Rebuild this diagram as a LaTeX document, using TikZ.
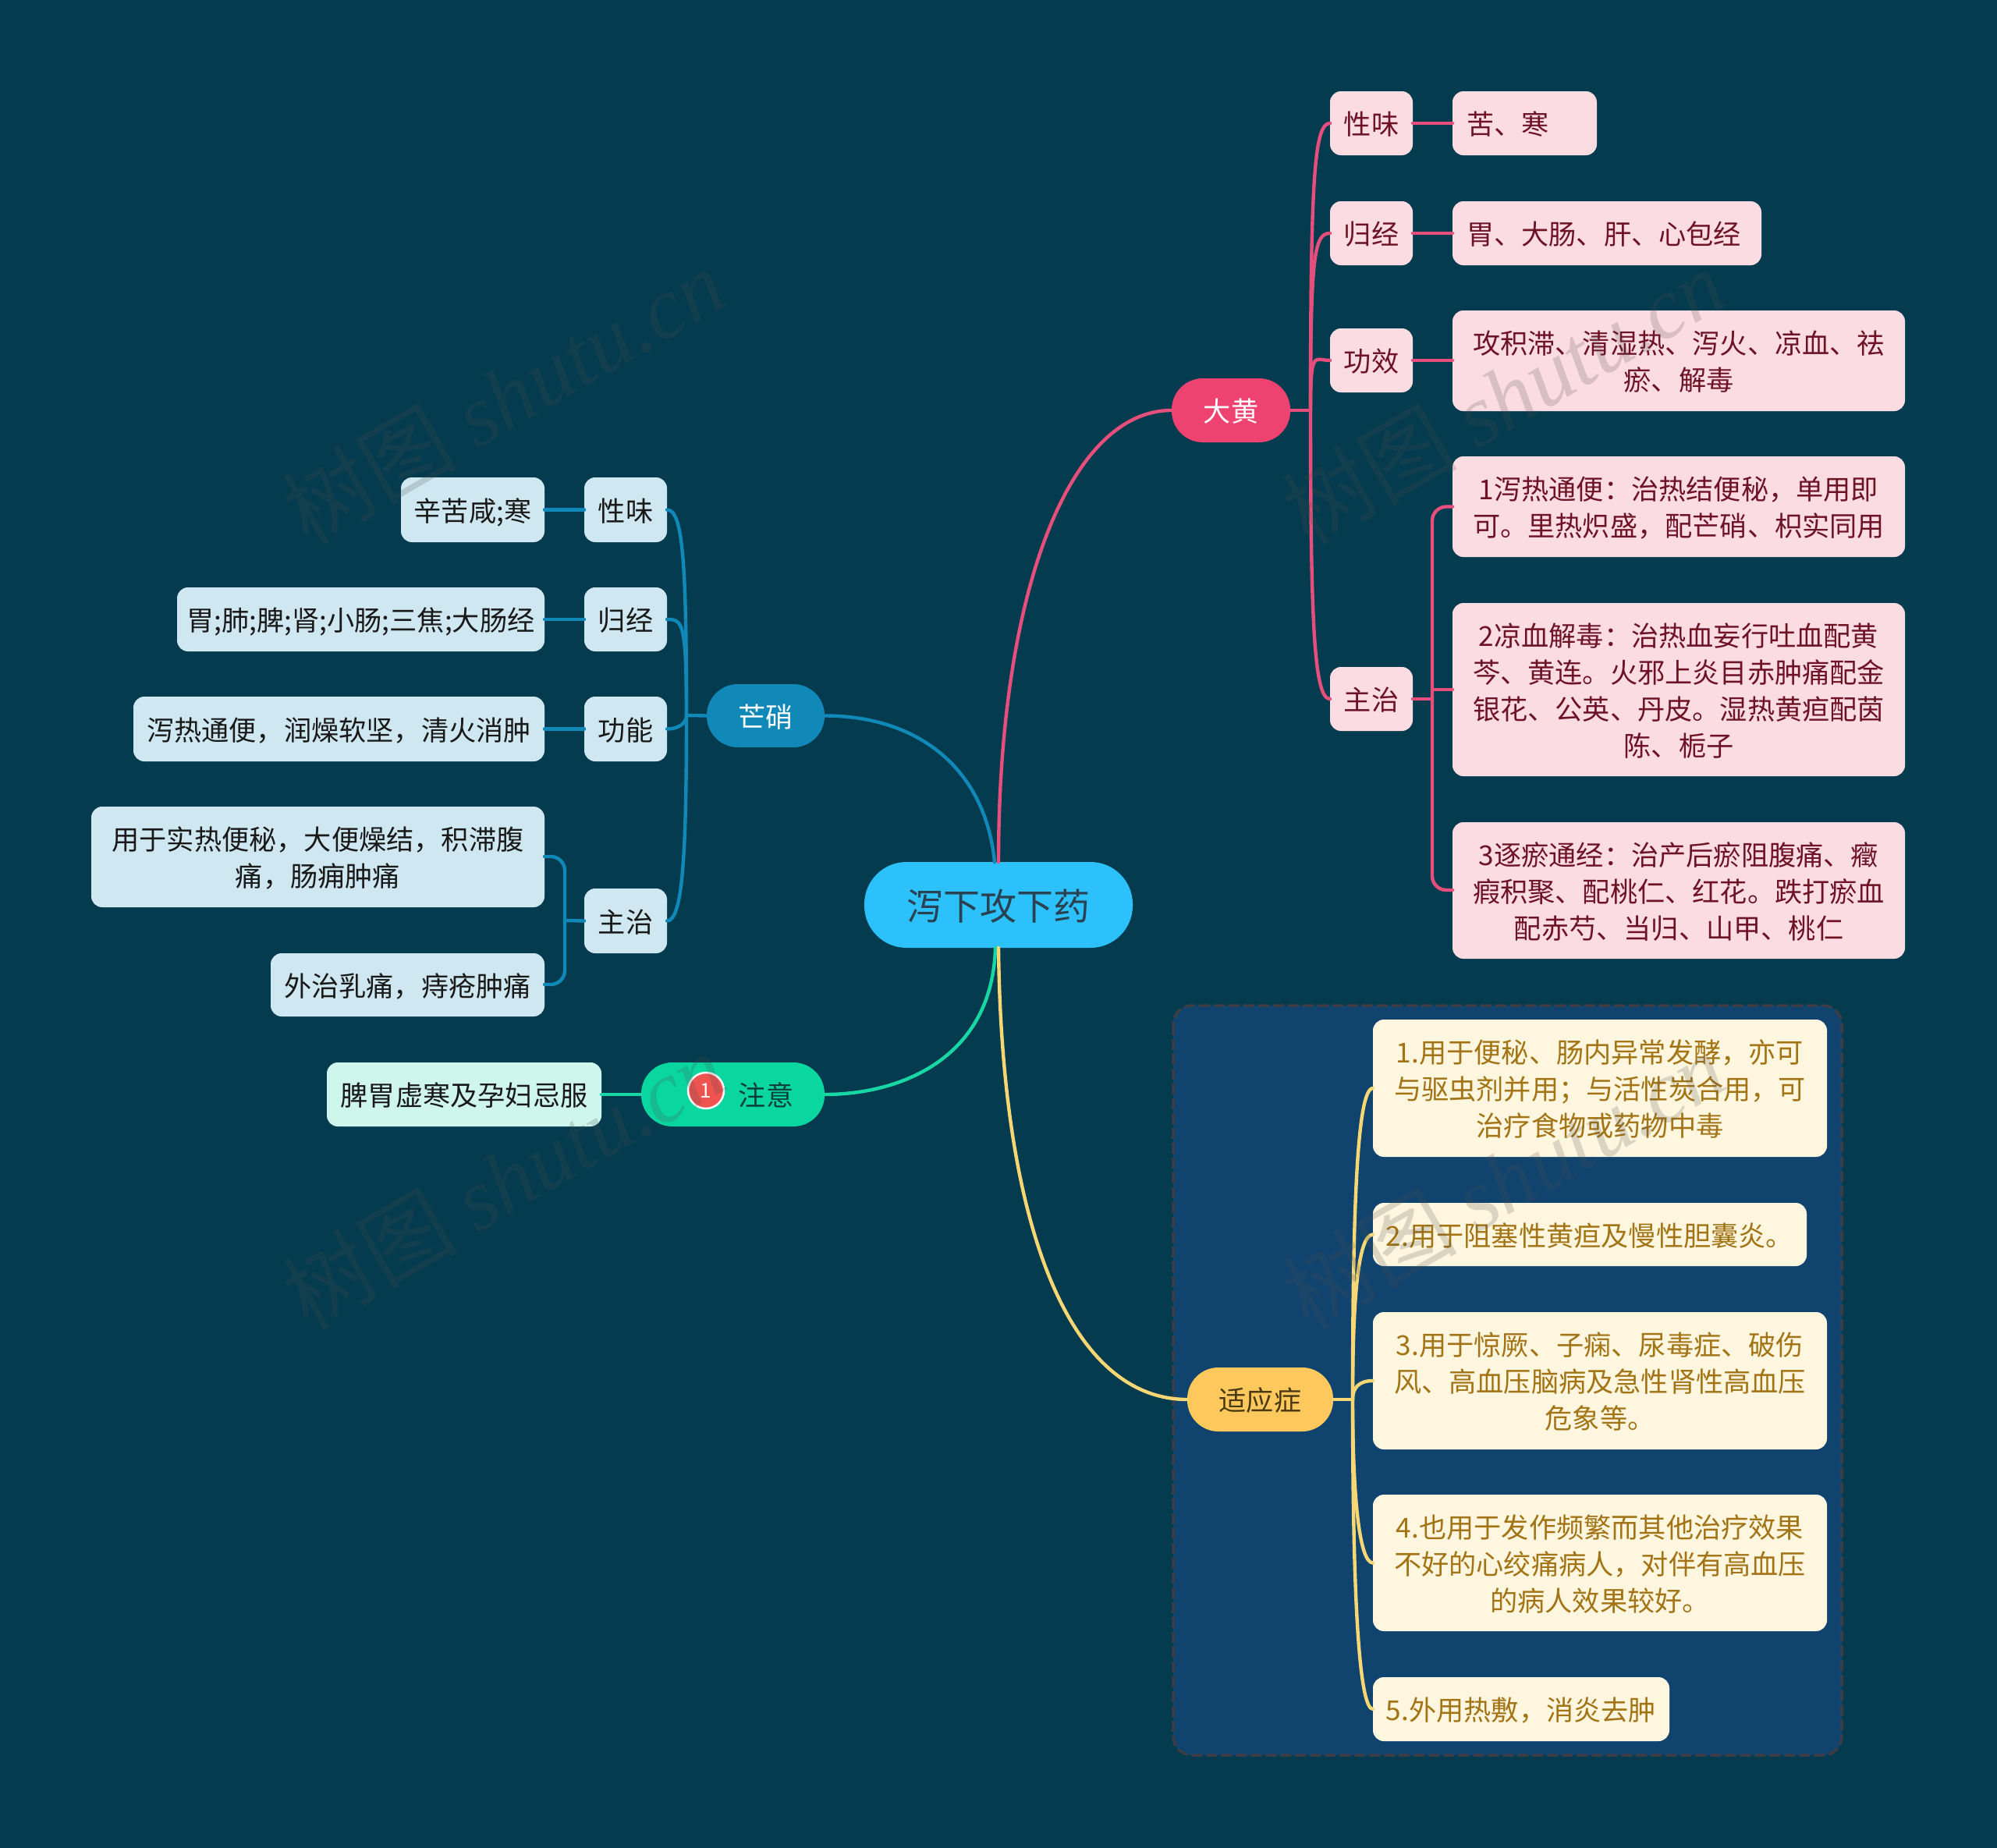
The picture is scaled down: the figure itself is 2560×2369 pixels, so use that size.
\documentclass[tikz,border=0pt]{standalone}
\usepackage{fontspec}
\setmainfont{Noto Sans CJK SC}
\newfontfamily\wmlatin[ItalicFont=Liberation Serif Italic]{Liberation Serif}
\usetikzlibrary{calc}
\definecolor{bgc}{HTML}{053B4F}
\definecolor{rootc}{HTML}{2CC1FA}
\definecolor{redc}{HTML}{EE4370}
\definecolor{redline}{HTML}{E64F7C}
\definecolor{bluec}{HTML}{1189B8}
\definecolor{greenc}{HTML}{0AD6A0}
\definecolor{greenline}{HTML}{17D7A4}
\definecolor{yelc}{HTML}{FFC85C}
\definecolor{yelline}{HTML}{F7D774}
\definecolor{pinkc}{HTML}{FCDCE3}
\definecolor{skyc}{HTML}{CFE7F0}
\definecolor{mintc}{HTML}{CEF6EC}
\definecolor{creamc}{HTML}{FEF6DF}
\definecolor{maroon}{HTML}{6E1226}
\definecolor{goldt}{HTML}{A37415}
\definecolor{panelc}{HTML}{10446F}
\definecolor{panelb}{HTML}{3F3C46}
\definecolor{badgec}{HTML}{EF5350}
\definecolor{roottext}{HTML}{2A4152}
\definecolor{greentext}{HTML}{0B4038}
\definecolor{yeltext}{HTML}{4A3A12}
\tikzset{
  mm/.style={inner sep=0pt,outer sep=0pt,align=center,text depth=0pt,font=\fontsize{35.2}{47}\selectfont,rounded corners=14pt},
  rootbox/.style={mm,fill=rootc,text=roottext,rounded corners=54pt,font=\fontsize{47}{56}\selectfont},
  redpill/.style={mm,fill=redc,text=white,rounded corners=40pt},
  bluepill/.style={mm,fill=bluec,text=white,rounded corners=40pt},
  greenpill/.style={mm,fill=greenc,text=greentext,rounded corners=40pt},
  yelpill/.style={mm,fill=yelc,text=yeltext,rounded corners=40pt},
  pinkbox/.style={mm,fill=pinkc,text=maroon},
  skybox/.style={mm,fill=skyc,text=black!90},
  mintbox/.style={mm,fill=mintc,text=black!90},
  creambox/.style={mm,fill=creamc,text=goldt},
  conn/.style={line width=4.4pt,line cap=round,line join=round},
  redl/.style={conn,draw=redline},
  bluel/.style={conn,draw=bluec},
  greenl/.style={conn,draw=greenline},
  yell/.style={conn,draw=yelline},
  watermark/.style={text=black!70,opacity=.2,rotate=30,inner sep=0pt,font=\fontsize{112}{112}\selectfont}
}
\newcommand{\mmnode}[7]{\node[#1,minimum width={(#5)-(#3)},minimum height={(#6)-(#4)}] (#2) at ({((#3)+(#5))/2},{((#4)+(#6))/2}) {#7};}
\begin{document}
\begin{tikzpicture}[x=1pt,y=-1pt]
\useasboundingbox (0,0) rectangle (2560,2369);
\fill[bgc] (0,0) rectangle (2560,2369);
% panel
\draw[fill=panelc,draw=panelb,line width=3.5pt,dash pattern=on 14pt off 5pt,rounded corners=24pt] (1504,1289) rectangle (2361,2250);
% root
\mmnode{rootbox}{root}{1108}{1105}{1452}{1215}{泻下攻下药}
% 大黄 branch
\mmnode{redpill}{dh}{1502}{485}{1654}{567}{大黄}
\mmnode{pinkbox}{r1}{1705}{117}{1811}{199}{性味}
\mmnode{pinkbox}{r2}{1705}{258}{1811}{340}{归经}
\mmnode{pinkbox}{r3}{1705}{421}{1811}{503}{功效}
\mmnode{pinkbox}{r4}{1705}{855}{1811}{937}{主治}
\mmnode{pinkbox}{ra}{1862}{117}{2047}{199}{\makebox[149pt][l]{苦、寒}}
\mmnode{pinkbox}{rb}{1862}{258}{2258}{340}{胃、大肠、肝、心包经\hspace*{8pt}}
\mmnode{pinkbox}{rc}{1862}{398}{2442}{527}{攻积滞、清湿热、泻火、凉血、祛\\瘀、解毒}
\mmnode{pinkbox}{rd}{1862}{585}{2442}{714}{1泻热通便：治热结便秘，单用即\\可。里热炽盛，配芒硝、枳实同用}
\mmnode{pinkbox}{re}{1862}{773}{2442}{995}{2凉血解毒：治热血妄行吐血配黄\\芩、黄连。火邪上炎目赤肿痛配金\\银花、公英、丹皮。湿热黄疸配茵\\陈、栀子}
\mmnode{pinkbox}{rf}{1862}{1054}{2442}{1229}{3逐瘀通经：治产后瘀阻腹痛、癥\\瘕积聚、配桃仁、红花。跌打瘀血\\配赤芍、当归、山甲、桃仁}
% 芒硝 branch
\mmnode{bluepill}{mx}{906}{877}{1057}{958}{芒硝}
\mmnode{skybox}{b1}{749}{612}{855}{695}{性味}
\mmnode{skybox}{b2}{749}{753}{855}{835}{归经}
\mmnode{skybox}{b3}{749}{893}{855}{976}{功能}
\mmnode{skybox}{b4}{749}{1139}{855}{1222}{主治}
\mmnode{skybox}{ba}{514}{612}{698}{695}{辛苦咸;寒}
\mmnode{skybox}{bb}{227}{753}{698}{835}{胃;肺;脾;肾;小肠;三焦;大肠经}
\mmnode{skybox}{bc}{171}{893}{698}{976}{泻热通便，润燥软坚，清火消肿}
\mmnode{skybox}{bd}{117}{1034}{698}{1163}{用于实热便秘，大便燥结，积滞腹\\痛，肠痈肿痛}
\mmnode{skybox}{be}{347}{1222}{698}{1303}{外治乳痛，痔疮肿痛}
% 注意 branch
\mmnode{greenpill}{zy}{822}{1362}{1057}{1444}{\hspace*{85pt}注意}
\mmnode{mintbox}{zl}{419}{1362}{771}{1444}{脾胃虚寒及孕妇忌服}
\node[circle,fill=badgec,draw=white!90!pink,line width=2.5pt,minimum size=46pt,inner sep=0pt,text=white!90!pink,font=\fontsize{26}{26}\selectfont] (badge) at (905,1398) {1};
% 适应症 branch
\mmnode{yelpill}{sy}{1522}{1753}{1709}{1835}{适应症}
\mmnode{creambox}{y1}{1760}{1307}{2342}{1483}{1.用于便秘、肠内异常发酵，亦可\\与驱虫剂并用；与活性炭合用，可\\治疗食物或药物中毒}
\mmnode{creambox}{y2}{1760}{1542}{2316}{1623}{2.用于阻塞性黄疸及慢性胆囊炎。}
\mmnode{creambox}{y3}{1760}{1682}{2342}{1858}{3.用于惊厥、子痫、尿毒症、破伤\\风、高血压脑病及急性肾性高血压\\危象等。}
\mmnode{creambox}{y4}{1760}{1916}{2342}{2091}{4.也用于发作频繁而其他治疗效果\\不好的心绞痛病人，对伴有高血压\\的病人效果较好。}
\mmnode{creambox}{y5}{1760}{2150}{2140}{2232}{5.外用热敷，消炎去肿}
% bus coordinates
\coordinate (rbus) at (1680,526);
\coordinate (rbus2) at (1836,896);
\coordinate (bbus) at (880,917);
\coordinate (bbus2) at (724,1180);
\coordinate (ybus) at (1734,1794);
% main curves
\draw[bluel] ([xshift=-5pt]root.north) .. controls +(-12,-120) and +(120,0) .. (mx.east);
\draw[redl] (root.north) .. controls +(0,-350) and +(-130,0) .. (dh.west);
\draw[greenl] ([xshift=-4pt]root.south) .. controls +(-4,140) and +(100,0) .. (zy.east);
\draw[yell] (root.south) .. controls +(4,360) and +(-150,0) .. (sy.west);
% red tree
\draw[redl] (dh.east) -- (rbus);
\draw[redl] (rbus) .. controls +(0,-300) and +(-20,0) .. (r1.west);
\draw[redl] (rbus) .. controls +(0,-200) and +(-20,0) .. (r2.west);
\draw[redl] (rbus) .. controls +(0,-80) and +(-20,0) .. (r3.west);
\draw[redl] (rbus) .. controls +(0,280) and +(-20,0) .. (r4.west);
\draw[redl] (r1) -- (ra);
\draw[redl] (r2) -- (rb);
\draw[redl] (r3.east) -- (r3.east -| rc.west);
\draw[redl] (r4.east) -- (rbus2);
\draw[redl,rounded corners=18pt] (rd.west) -- (rd.west -| rbus2) -- (rbus2 |- 0,1141) -- (rf.west |- 0,1141);
\draw[redl] (rbus2 |- re.west) -- (re.west);
% blue tree
\draw[bluel] (mx.west) -- (bbus);
\draw[bluel] (bbus) .. controls +(0,-200) and +(20,0) .. (b1.east);
\draw[bluel] (bbus) .. controls +(0,-120) and +(20,0) .. (b2.east);
\draw[bluel] (bbus) .. controls +(0,10) and +(15,0) .. (b3.east);
\draw[bluel] (bbus) .. controls +(0,180) and +(20,0) .. (b4.east);
\draw[bluel] (ba) -- (b1);
\draw[bluel] (bb) -- (b2);
\draw[bluel] (bc) -- (b3);
\draw[bluel] (b4.west) -- (bbus2);
\draw[bluel,rounded corners=18pt] (bd.east |- 0,1098) -- (bbus2 |- 0,1098) -- (bbus2 |- 0,1262) -- (be.east |- 0,1262);
% green
\draw[greenl] (zl) -- (zy);
% yellow tree
\draw[yell] (sy.east) -- (ybus);
\draw[yell] (ybus) .. controls +(0,-250) and +(-20,0) .. (y1.west);
\draw[yell] (ybus) .. controls +(0,-120) and +(-20,0) .. (y2.west);
\draw[yell] (ybus) .. controls +(0,-15) and +(-18,0) .. (y3.west);
\draw[yell] (ybus) .. controls +(0,120) and +(-18,0) .. (y4.west);
\draw[yell] (ybus) .. controls +(0,250) and +(-18,0) .. (y5.west);
% watermarks
\node[watermark] (w1) at (645,508) {树图 {\wmlatin\itshape shutu.cn}};
\node[watermark] (w2) at (1927,508) {树图 {\wmlatin\itshape shutu.cn}};
\node[watermark] (w3) at (645,1513) {树图 {\wmlatin\itshape shutu.cn}};
\node[watermark] (w4) at (1927,1513) {树图 {\wmlatin\itshape shutu.cn}};
\end{tikzpicture}
\end{document}
